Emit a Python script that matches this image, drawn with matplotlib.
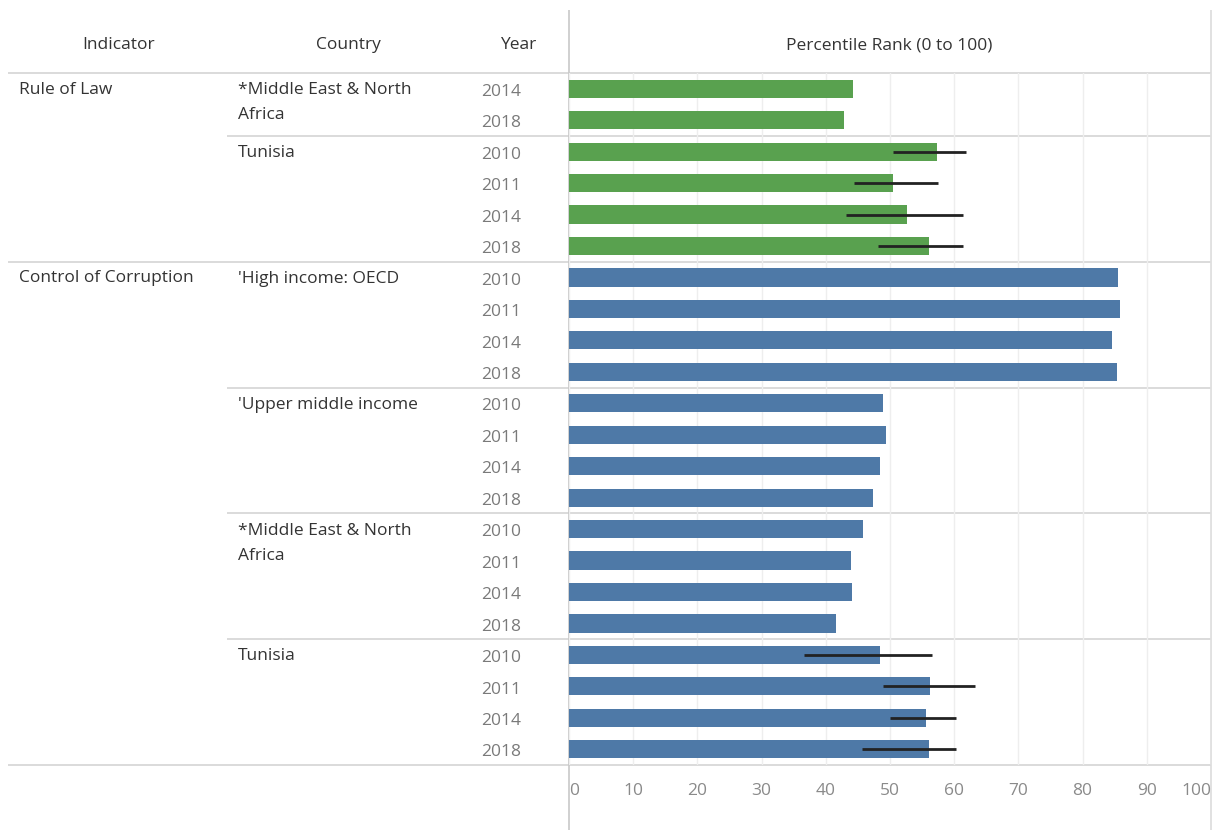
import numpy as np
import matplotlib.pyplot as plt

plt.rcParams['font.family'] = ['Open Sans', 'DejaVu Sans']

# data (rows top to bottom)
indicators = ['Rule of Law', 'Control of Corruption']
indicator_rows = [0, 6]
countries = [['*Middle East & North', 'Africa'], ['Tunisia'], ["'High income: OECD"],
             ["'Upper middle income"], ['*Middle East & North', 'Africa'], ['Tunisia']]
country_rows = [0, 2, 6, 10, 14, 18]
years = ['2014', '2018',
         '2010', '2011', '2014', '2018',
         '2010', '2011', '2014', '2018',
         '2010', '2011', '2014', '2018',
         '2010', '2011', '2014', '2018',
         '2010', '2011', '2014', '2018']
values = [44.2, 42.8,
          57.3, 50.4, 52.7, 56.1,
          85.5, 85.8, 84.6, 85.3,
          48.9, 49.3, 48.5, 47.3,
          45.8, 43.9, 44.1, 41.6,
          48.4, 56.2, 55.6, 56.1]
err_rows = [2, 3, 4, 5, 18, 19, 20, 21]
err_low = [50.5, 44.4, 43.2, 48.1, 36.6, 48.9, 50.0, 45.6]
err_high = [61.9, 57.5, 61.4, 61.4, 56.5, 63.3, 60.3, 60.3]
green = '#59a14f'
blue = '#4e79a7'
colors = [green] * 6 + [blue] * 16

W, H = 1224, 830
top_px, bot_px = 73, 765
left_px, right_px = 569, 1211
n = len(years)
row_h = (bot_px - top_px) / n

fig = plt.figure(figsize=(W / 100, H / 100), dpi=100)

# background axes: pixel x, row y
bg = fig.add_axes([0, 0, 1, 1])
bg.set_xlim(0, W)
y_top = -0.5 - top_px / row_h
y_bot = n - 0.5 + (H - bot_px) / row_h
bg.set_ylim(y_bot, y_top)
bg.axis('off')

line_c = '#d4d4d4'
txt_c = '#333333'
# dividers
bg.hlines(-0.5, 8, right_px, color=line_c, lw=1.2)
bg.hlines(n - 0.5, 8, right_px, color=line_c, lw=1.2)
bg.hlines(indicator_rows[1] - 0.5, 8, right_px, color=line_c, lw=1.2)
for r in country_rows:
    if r not in indicator_rows:
        bg.hlines(r - 0.5, 227, right_px, color=line_c, lw=1.2)
bg.vlines(left_px, y_top + 10 / row_h, y_bot, color='#c8c8c8', lw=1.2)
bg.vlines(right_px, y_top + 10 / row_h, y_bot, color='#dcdcdc', lw=1.2)

# headers
hy = -0.5 - 28 / row_h
fs = 12.5
bg.text(119, hy, 'Indicator', ha='center', va='center', fontsize=fs, color=txt_c)
bg.text(348, hy, 'Country', ha='center', va='center', fontsize=fs, color=txt_c)
bg.text(518, hy, 'Year', ha='center', va='center', fontsize=fs, color=txt_c)
bg.text(889, hy, 'Percentile Rank (0 to 100)', ha='center', va='center', fontsize=fs, color=txt_c)

for lab, r in zip(indicators, indicator_rows):
    bg.text(19, r + 0.03, lab, ha='left', va='center', fontsize=fs, color=txt_c)
for lines, r in zip(countries, country_rows):
    for k, lab in enumerate(lines):
        bg.text(238, r + 0.05 + k * 25 / row_h, lab, ha='left', va='center', fontsize=fs, color=txt_c)
for i, y in enumerate(years):
    bg.text(521, i + 0.1, y, ha='right', va='center', fontsize=fs, color='#7a7a7a')

# bar axes
ax = fig.add_axes([left_px / W, (H - bot_px) / H, (right_px - left_px) / W, (bot_px - top_px) / H])
ax.patch.set_alpha(0)
rows = np.arange(n)
ax.barh(rows, values, height=0.58, color=colors, zorder=2)
ax.hlines(err_rows, err_low, err_high, color='#222222', lw=2, zorder=3)
ax.set_xlim(0, 100)
ax.set_ylim(n - 0.5, -0.5)
ax.set_yticks([])
ticks = list(range(0, 101, 10))
ax.set_xticks(ticks)
ax.set_xticklabels([str(t) for t in ticks], fontsize=fs, color='#8a8a8a')
ax.tick_params(axis='x', length=0, pad=13)
tl = ax.get_xticklabels()
tl[0].set_ha('left')
tl[-1].set_ha('right')
ax.grid(axis='x', color='#eeeeee', lw=1, zorder=0)
for s in ax.spines.values():
    s.set_visible(False)

fig.savefig('out.png', dpi=100)
